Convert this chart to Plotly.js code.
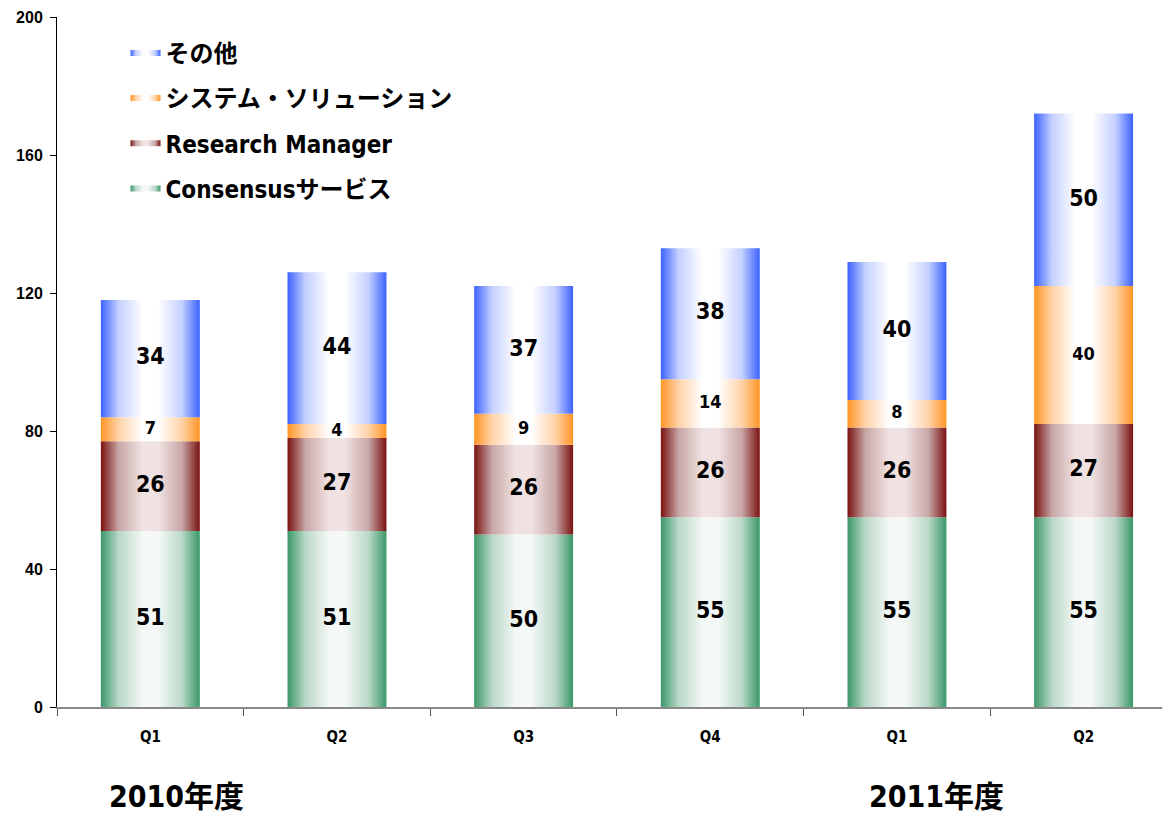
<!DOCTYPE html>
<html>
<head>
<meta charset="utf-8">
<script src="https://cdn.plot.ly/plotly-3.0.1.min.js"></script>
<style>
  body { margin: 0; background: #fff; }
  #chart { width: 1162px; height: 814px; }
</style>
</head>
<body>
<div id="chart"></div>
<script>
// --- Data ---
var quarters = ['Q1', 'Q2', 'Q3', 'Q4', 'Q1', 'Q2'];
var yearLabels = ['2010年度', '2011年度'];

var seriesNames = ['Consensusサービス', 'Research Manager', 'システム・ソリューション', 'その他'];
var consensus = [51, 51, 50, 55, 55, 55];
var researchMgr = [26, 27, 26, 26, 26, 27];
var systemSol = [7, 4, 9, 14, 8, 40];
var others = [34, 44, 37, 38, 40, 50];

// edge colour / centre colour for the horizontal gradients
var edgeColors = ['#3a9868', '#7a1212', '#ff9524', '#3c62ff'];
var midColors = ['#f4f8f6', '#f0e2e2', '#ffffff', '#ffffff'];
var softColors = ['#b9d8c8', '#c8a6a6', '#ffd2a8', '#c4d0ff'];
var labelSizes = [23, 23, 18, 23];

var allSeries = [consensus, researchMgr, systemSol, others];
var halfWidth = 0.265;
var narrow = 'DejaVu Sans Condensed, Liberation Sans Narrow, Arial Narrow, sans-serif';
var narrowJp = 'DejaVu Sans Condensed, Noto Sans CJK JP, sans-serif';

function gradientScale(k) {
    return [
        [0, edgeColors[k]],
        [0.18, softColors[k]],
        [0.42, midColors[k]],
        [0.58, midColors[k]],
        [0.82, softColors[k]],
        [1, edgeColors[k]]
    ];
}

var traces = [];
var base = quarters.map(function () { return 0; });
var labelTraces = [];

allSeries.forEach(function (vals, k) {
    var mids = [];
    vals.forEach(function (v, i) {
        var b = base[i], t = base[i] + v;
        traces.push({
            type: 'scatter',
            mode: 'none',
            x: [i - halfWidth, i + halfWidth, i + halfWidth, i - halfWidth, i - halfWidth],
            y: [b, b, t, t, b],
            fill: 'toself',
            fillgradient: { type: 'horizontal', colorscale: gradientScale(k) },
            name: seriesNames[k],
            legendgroup: seriesNames[k],
            legendrank: 10 - k,
            showlegend: i === 0,
            hoverinfo: 'skip'
        });
        mids.push(b + v / 2);
        base[i] = t;
    });
    labelTraces.push({
        type: 'scatter',
        mode: 'text',
        x: quarters.map(function (q, i) { return i; }),
        y: mids,
        text: vals.map(String),
        textfont: { family: narrow, size: labelSizes[k], color: '#000', weight: 'bold' },
        showlegend: false,
        hoverinfo: 'skip'
    });
});

var layout = {
    width: 1162,
    height: 814,
    margin: { l: 57, r: 0, t: 17, b: 107 },
    paper_bgcolor: '#fff',
    plot_bgcolor: '#fff',
    showlegend: true,
    legend: {
        x: 0.062, y: 0.98, xanchor: 'left', yanchor: 'top',
        traceorder: 'grouped',
        font: { family: narrowJp, size: 24, color: '#000', weight: 'bold' },
        itemwidth: 30,
        tracegroupgap: 11,
        bgcolor: 'rgba(0,0,0,0)'
    },
    xaxis: {
        range: [-0.5, 5.42],
        tickmode: 'array',
        tickvals: quarters.map(function (q, i) { return i; }),
        ticktext: quarters,
        ticks: '',
        tickfont: { family: narrow, size: 15, color: '#000', weight: 'bold' },
        ticklabelstandoff: 15,
        minor: { ticks: 'outside', tick0: 0.5, dtick: 1, ticklen: 7, tickcolor: '#555', tickwidth: 1 },
        showline: true,
        linecolor: '#888',
        linewidth: 2,
        showgrid: false,
        zeroline: false,
        fixedrange: true
    },
    yaxis: {
        range: [0, 200],
        tick0: 0,
        dtick: 40,
        ticks: 'outside',
        ticklen: 6,
        tickcolor: '#000',
        tickfont: { family: 'Liberation Sans, Arial, sans-serif', size: 16, color: '#000', weight: 'bold' },
        ticklabelstandoff: 4,
        showline: true,
        linecolor: '#000',
        linewidth: 1,
        showgrid: false,
        zeroline: false,
        fixedrange: true
    },
    annotations: [
        { text: yearLabels[0], xref: 'paper', yref: 'paper', x: 0.108, y: -0.158, xanchor: 'center', yanchor: 'bottom', showarrow: false,
          font: { family: narrowJp, size: 30, color: '#000', weight: 'bold' } },
        { text: yearLabels[1], xref: 'paper', yref: 'paper', x: 0.796, y: -0.158, xanchor: 'center', yanchor: 'bottom', showarrow: false,
          font: { family: narrowJp, size: 30, color: '#000', weight: 'bold' } }
    ]
};

Plotly.newPlot('chart', traces.concat(labelTraces), layout, { displayModeBar: false, staticPlot: true });
</script>
</body>
</html>
